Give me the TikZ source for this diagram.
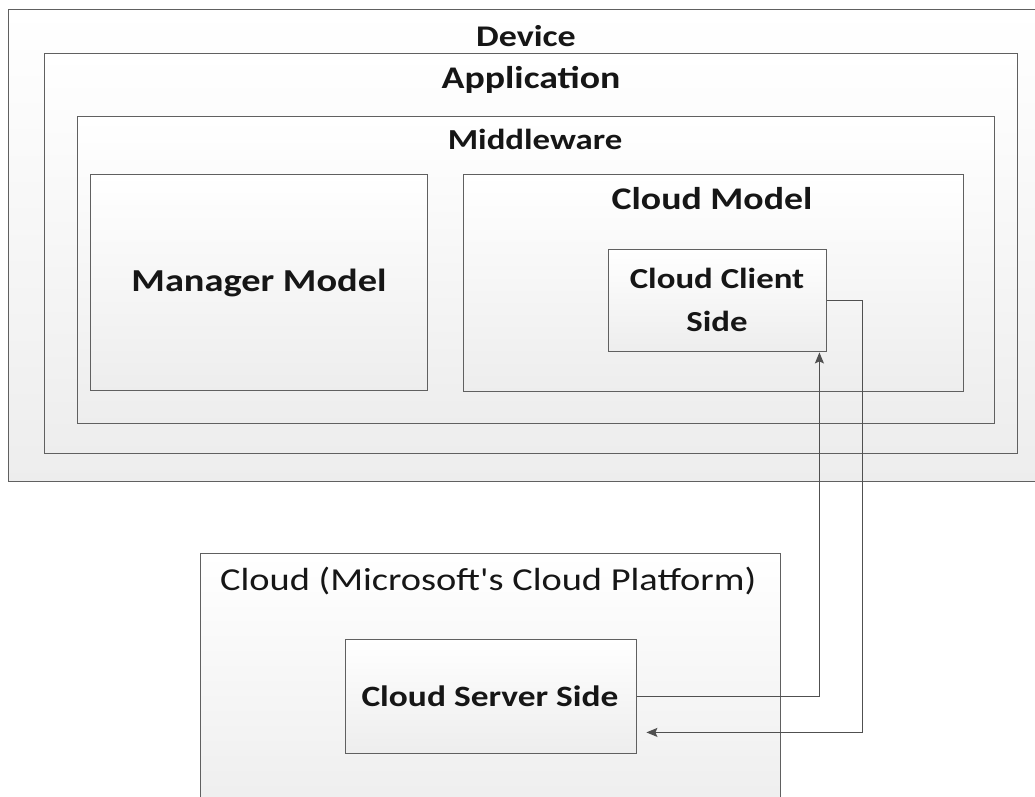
\documentclass[tikz,border=0pt]{standalone}
\usepackage{fontspec}
\setmainfont{Carlito}
\newfontfamily\widecal[FakeStretch=1.2]{Carlito}
\usetikzlibrary{arrows.meta,calc}

\definecolor{edge}{HTML}{606060}
\definecolor{ink}{HTML}{161616}
\definecolor{wire}{HTML}{505050}

\tikzset{
  layer/.style={draw=edge, line width=1.4pt, top color=white, bottom color=black!7,
                anchor=north west, inner sep=0pt},
  ttl/.style={text=ink, inner sep=0pt, font=\widecal\bfseries\fontsize{#1}{#1}\selectfont},
  link/.style={draw=wire, line width=1.2pt, -{Stealth[length=11pt,width=9pt,inset=2pt]}}
}

% a box spanning the corner (#2) to the corner (#3), named #1
\newcommand\layerbox[3]{%
  \path let \p1=(#2), \p2=(#3) in
    node[layer, minimum width={\x2-\x1}, minimum height={\y1-\y2}] (#1) at (#2) {};}

\begin{document}
\begin{tikzpicture}[x=1pt, y=-1pt]
\useasboundingbox (0,0) rectangle (1035,796);

% nested layers of the device
\layerbox{device}{8,9}{1050,481}
\layerbox{app}{44,53}{1017,453}
\layerbox{mid}{77,116}{994,423}
\layerbox{mgr}{90,174}{427,390}
\layerbox{cmodel}{463,174}{963,391}
\layerbox{client}{608,249}{826,351}

% cloud side
\layerbox{cloud}{200,553}{780,820}
\layerbox{server}{345,639}{636,753}

% titles
\node[ttl=30] (tDevice) at (526,36) {Device};
\node[ttl=31.5] (tApp) at (531,80) {Application};
\node[ttl=29] (tMid) at (535,139) {Middleware};
\node[ttl=31.5] (tCModel) at (712,199) {Cloud Model};
\node[ttl=32] (tMgr) at (259,283) {Manager Model};
\node[ttl=29, align=center, font=\widecal\bfseries\fontsize{29}{43}\selectfont] (tClient) at (717,300) {Cloud Client\\Side};
\node[text=ink, inner sep=0pt, anchor=west, font=\widecal\fontsize{32}{32}\selectfont] (tCloud) at (220,581) {Cloud (Microsoft's Cloud Platform)};
\node[ttl=29.5] (tServer) at (490,696) {Cloud Server Side};

% request and response wires
\draw[link] (server.east) -| ([xshift=-8pt]client.south east);
\draw[link] (client.east) -- ++(35,0) |- ([shift={(9pt,22pt)}]server.south east);
\end{tikzpicture}
\end{document}
